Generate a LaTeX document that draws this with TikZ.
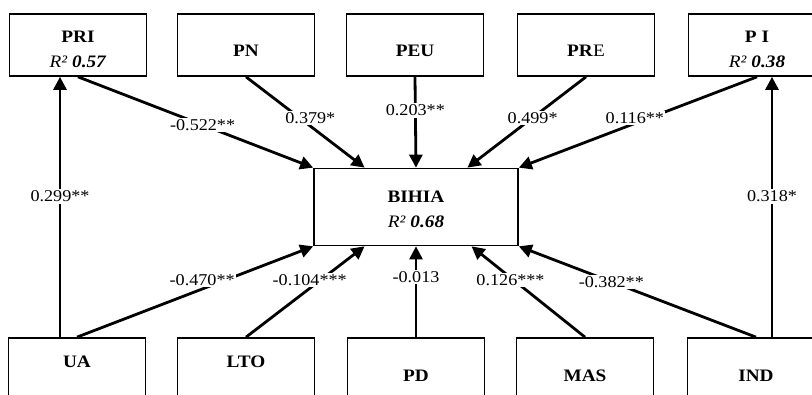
\documentclass[tikz,border=0pt]{standalone}
\usepackage{fontspec}
\setmainfont{Liberation Serif}[FakeStretch=1.1]
\usetikzlibrary{arrows.meta,calc,positioning}

% box text, moved up or down inside its frame
\newcommand\lift[2]{\raisebox{#1}[\height][\depth]{\begin{tabular}{@{}c@{}}#2\end{tabular}}}

\tikzset{
  box/.style={draw, line width=1.7pt, minimum width=137pt, minimum height=62pt,
    inner sep=0pt, font=\fontsize{17.5}{25}\selectfont},
  link/.style={line width=2.8pt, -{Triangle[length=13pt,width=13pt]}},
  coef/.style={fill=white, inner sep=1.5pt, font=\fontsize{16.5}{18}\selectfont},
}

\begin{document}
\begin{tikzpicture}[x=1pt,y=-1pt]
    \useasboundingbox (0,0) rectangle (812,395);
    \clip (0,0) rectangle (812,395);

    % Top constructs
    \node[box] (pri) at (78,45) {\lift{-5pt}{\textbf{PRI}\\\textit{R²} \textbf{\textit{0.57}}}};
    \node[box] (pn) at (246,45) {\lift{-7pt}{\textbf{PN}}};
    \node[box] (peu) at (415,45) {\lift{-7pt}{\textbf{PEU}}};
    \node[box] (pre) at (586,45) {\lift{-7pt}{\textbf{PR}E}};
    \node[box] (pinn) at (757,45) {\lift{-5pt}{\textbf{P I}\\\textit{R²} \textbf{\textit{0.38}}}};

    % Central construct
    \node[box, minimum width=204pt, minimum height=77pt] (bihia) at (416,207)
        {\lift{-3.5pt}{\textbf{BIHIA}\\\textit{R²} \textbf{\textit{0.68}}}};

    % Bottom constructs
    \node[box] (ua) at (77,369) {\lift{6pt}{\textbf{UA}}};
    \node[box] (lto) at (246,369) {\lift{6pt}{\textbf{LTO}}};
    \node[box] (pd) at (416,369) {\lift{-8pt}{\textbf{PD}}};
    \node[box] (mas) at (585,369) {\lift{-8pt}{\textbf{MAS}}};
    \node[box] (ind) at (756,369) {\lift{-8pt}{\textbf{IND}}};

    % Arrow ends on BIHIA
    \coordinate (bn1) at ($(bihia.north west)!0.25!(bihia.north east)$);
    \coordinate (bn3) at ($(bihia.north west)!0.75!(bihia.north east)$);
    \coordinate (bs1) at ($(bihia.south west)!0.25!(bihia.south east)$);
    \coordinate (bs3) at ($(bihia.south west)!0.77!(bihia.south east)$);

    % Top paths
    \draw[link] (pri.south) -- (bihia.north west) node[coef,pos=0.53] {-0.522**};
    \draw[link] (pn.south) -- (bn1) node[coef,pos=0.45,xshift=11pt] {0.379*};
    \draw[link] (peu.south) -- (bihia.north) node[coef,pos=0.37] {0.203**};
    \draw[link] (pre.south) -- (bn3) node[coef,pos=0.45] {0.499*};
    \draw[link] (pinn.south) -- (bihia.north east) node[coef,pos=0.45,xshift=-15pt] {0.116**};

    % Bottom paths
    \draw[link] (ua.north) -- (bihia.south west) node[coef,pos=0.53,yshift=9pt] {-0.470**};
    \draw[link] (lto.north) -- (bs1) node[coef,pos=0.63,xshift=-11pt] {-0.104***};
    \draw[link] (pd.north) -- (bihia.south) node[coef,pos=0.66] {-0.013};
    \draw[link] (mas.north) -- (bs3) node[coef,pos=0.63,xshift=-3pt] {0.126***};
    \draw[link] (ind.north) -- (bihia.south east) node[coef,pos=0.61] {-0.382**};

    % Vertical paths
    \coordinate (uaup) at ([xshift=-17pt]ua.north);
    \coordinate (indup) at ([xshift=16pt]ind.north);
    \draw[link] (uaup) -- (uaup |- pri.south) node[coef,pos=0.54] {0.299**};
    \draw[link] (indup) -- (indup |- pinn.south) node[coef,pos=0.54] {0.318*};
\end{tikzpicture}
\end{document}
